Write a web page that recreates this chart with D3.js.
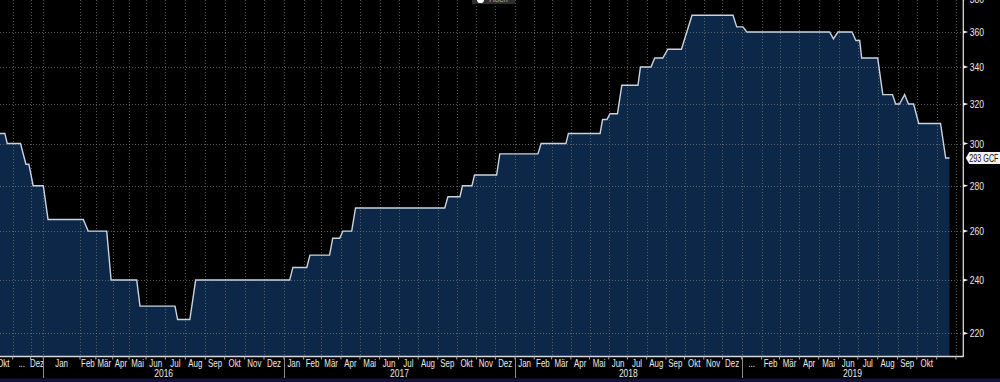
<!DOCTYPE html>
<html><head><meta charset="utf-8">
<script src="https://cdn.jsdelivr.net/npm/d3@7"></script>
<style>html,body{margin:0;padding:0;background:#000;overflow:hidden}svg{display:block}</style>
</head><body><svg id="c" width="1000" height="382"></svg>
<script>
// ---- data ----
const dates = ["2015-10-06","2015-10-19","2015-10-23","2015-11-14","2015-11-23","2015-11-28","2015-12-07","2016-01-01","2016-01-05","2016-02-07","2016-02-16","2016-03-21","2016-03-29","2016-05-15","2016-05-21","2016-07-16","2016-07-20","2016-08-08","2016-08-17","2017-01-10","2017-01-15","2017-02-06","2017-02-11","2017-03-14","2017-03-19","2017-03-30","2017-04-04","2017-04-18","2017-04-24","2017-09-12","2017-09-17","2017-10-06","2017-10-10","2017-10-25","2017-10-29","2017-12-03","2017-12-08","2018-02-07","2018-02-12","2018-03-24","2018-03-28","2018-05-18","2018-05-22","2018-05-29","2018-06-03","2018-06-15","2018-06-22","2018-07-18","2018-07-22","2018-08-08","2018-08-14","2018-08-27","2018-09-04","2018-09-26","2018-10-13","2018-12-18","2018-12-24","2019-01-03","2019-01-09","2019-05-18","2019-05-24","2019-05-31","2019-06-22","2019-06-28","2019-07-04","2019-07-07","2019-08-01","2019-08-09","2019-08-24","2019-08-29","2019-09-04","2019-09-12","2019-09-18","2019-09-26","2019-10-04","2019-11-07","2019-11-15","2019-11-21"];
const values = [305,305,300,300,290,290,280,280,265,265,260,260,240,240,230,230,225,225,240,240,245,245,250,250,257,257,260,260,270,270,275,275,280,280,285,285,295,295,300,300,305,305,312,312,315,315,330,330,340,340,345,345,350,350,370,370,363,363,360,360,356,360,360,355,355,345,345,325,325,320,320,325,320,320,310,310,293,293];
const yTicks = [220,240,260,280,300,320,340,360,380];
const monthNames = ["Jan","Feb","Mär","Apr","Mai","Jun","Jul","Aug","Sep","Okt","Nov","Dez"];
const elidedMonths = ["2015-11","2019-01"];
const years = [2016,2017,2018,2019];
const lastLabel = "293 GCF";
const legendLabel = "Hoch";

// ---- layout ----
const parse = d3.utcParse("%Y-%m-%d");
const plotRight = 963.3, plotBottom = 356.5;
const axisDates = ["2015-10-01","2015-11-01","2015-12-01","2016-01-01","2016-02-01","2016-06-01","2017-01-01","2018-01-01","2019-01-01","2019-11-01"].map(parse);
const x = d3.scaleUtc().domain(axisDates).range([-6,12.7,30.7,43.3,80,146,284,515,741.7,936.7]);
const y = d3.scaleLog().domain([220,360]).range([333.3,32]);

const data = dates.map((d,i)=>({date:parse(d), value:values[i]}));
const svg = d3.select("#c");
svg.append("rect").attr("width",1000).attr("height",382).attr("fill","#000");
svg.append("defs").append("clipPath").attr("id","pc").append("rect")
  .attr("x",0).attr("y",0).attr("width",plotRight).attr("height",plotBottom);

const font = "'Liberation Sans', Arial, sans-serif";
function condense(sel, f){
  sel.each(function(){
    const w = this.getComputedTextLength();
    d3.select(this).attr("textLength", w*f).attr("lengthAdjust","spacingAndGlyphs");
  });
  return sel;
}
const plot = svg.append("g").attr("clip-path","url(#pc)");

// area
plot.append("path").datum(data)
  .attr("fill","#0c2747")
  .attr("d", d3.area().x(d=>x(d.date)).y0(plotBottom).y1(d=>y(d.value)));

// grid
const months = d3.utcMonths(parse("2015-10-01"), parse("2019-12-02"));
plot.selectAll(".vg").data(months.filter(m=>x(m)>1 && x(m)<plotRight-2)).join("line")
  .attr("x1",d=>Math.round(x(d))+0.5).attr("x2",d=>Math.round(x(d))+0.5)
  .attr("y1",0).attr("y2",plotBottom)
  .attr("stroke","#7a7a7a").attr("stroke-opacity",0.7).attr("stroke-dasharray","1,2");
plot.selectAll(".hg").data(yTicks).join("line")
  .attr("x1",0).attr("x2",plotRight)
  .attr("y1",d=>Math.round(y(d))+0.5).attr("y2",d=>Math.round(y(d))+0.5)
  .attr("stroke","#7a7a7a").attr("stroke-opacity",0.7).attr("stroke-dasharray","1,2");

// line
plot.append("path").datum(data)
  .attr("fill","none").attr("stroke","#c9d3df").attr("stroke-width",1.4)
  .attr("d", d3.line().x(d=>x(d.date)).y(d=>y(d.value)));

// frame
svg.append("line").attr("x1",plotRight).attr("x2",plotRight).attr("y1",0).attr("y2",plotBottom+0.5)
  .attr("stroke","#d8d8d8").attr("stroke-width",1.3);
svg.append("line").attr("x1",0).attr("x2",plotRight).attr("y1",plotBottom).attr("y2",plotBottom)
  .attr("stroke","#d8d8d8").attr("stroke-width",1.3);

// right axis
const ya = svg.append("g");
yTicks.forEach(t=>{
  const yy = y(t);
  ya.append("path").attr("d",`M${plotRight},${yy-1.6}L${plotRight+5},${yy}L${plotRight},${yy+1.6}Z`).attr("fill","#eee");
  condense(ya.append("text").attr("x",plotRight+6.5).attr("y",yy).attr("dy","0.36em")
    .attr("font-family",font).attr("font-size",11).attr("fill","#e8e8e8").text(t), 0.78);
});

// last value label
const last = data[data.length-1];
const ly = y(last.value);
svg.append("path").attr("d",`M${plotRight+2.5},${ly}L${plotRight+6},${ly-6}L1000,${ly-6}L1000,${ly+6}L${plotRight+6},${ly+6}Z`)
  .attr("fill","#f4f4f4");
condense(svg.append("text").attr("x",plotRight+6).attr("y",ly).attr("dy","0.36em")
  .attr("font-family",font).attr("font-size",10).attr("fill","#111").text(lastLabel), 0.72);

// x axis: month ticks and labels
const xa = svg.append("g");
months.filter(m=>x(m)>0 && x(m)<plotRight).forEach(m=>{
  xa.append("line").attr("x1",x(m)).attr("x2",x(m)).attr("y1",plotBottom).attr("y2",plotBottom+3)
    .attr("stroke","#aaa");
});
const labelMonths = d3.utcMonths(parse("2015-10-01"), parse("2019-11-01"));
labelMonths.forEach(m=>{
  const next = d3.utcMonth.offset(m,1);
  const cx = (x(m)+x(next))/2;
  const key = d3.utcFormat("%Y-%m")(m);
  const txt = elidedMonths.includes(key) ? "..." : monthNames[m.getUTCMonth()];
  condense(xa.append("text").attr("x",cx).attr("y",366.8).attr("text-anchor","middle")
    .attr("font-family",font).attr("font-size",11).attr("fill","#eaeaea").text(txt), 0.72);
});
years.forEach(yr=>{
  const a = x(new Date(Date.UTC(yr,0,1)));
  const b = Math.min(plotRight, x(new Date(Date.UTC(yr+1,0,1))));
  xa.append("line").attr("x1",Math.round(a)+0.5).attr("x2",Math.round(a)+0.5).attr("y1",plotBottom).attr("y2",378)
    .attr("stroke","#8a8a8a");
  condense(xa.append("text").attr("x",(a+b)/2).attr("y",377.3).attr("text-anchor","middle")
    .attr("font-family",font).attr("font-size",11.2).attr("fill","#eaeaea").text(yr), 0.76);
});

// bottom strip
svg.append("rect").attr("x",0).attr("y",378.5).attr("width",1000).attr("height",4).attr("fill","#17123c");

// legend (cut off at top)
svg.append("rect").attr("x",472).attr("y",-6).attr("width",43).attr("height",10).attr("rx",1).attr("fill","#2e2e2e");
svg.append("circle").attr("cx",480.5).attr("cy",-0.5).attr("r",3.6).attr("fill","#fff");
svg.append("text").attr("x",489).attr("y",2).attr("font-family",font).attr("font-size",8).attr("fill","#aaa").text(legendLabel);
</script>
</body></html>
